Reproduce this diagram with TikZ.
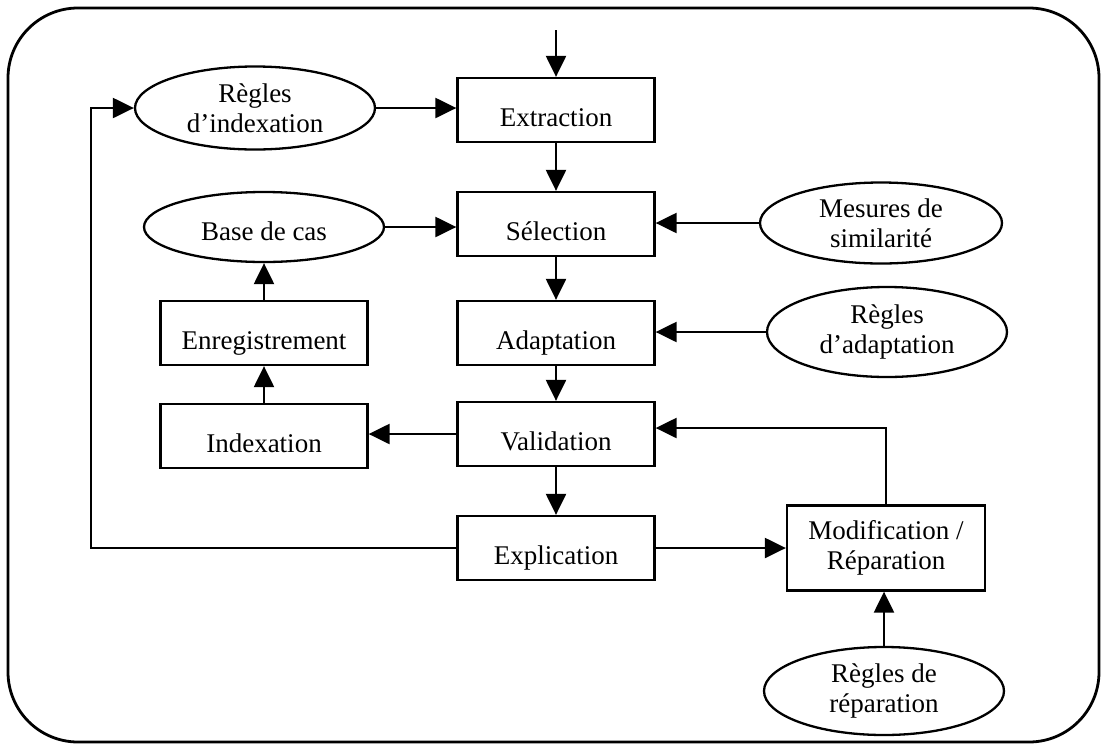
\documentclass[tikz,border=0pt]{standalone}
\usepackage{fontspec}
\setmainfont{Liberation Serif}
\usetikzlibrary{shapes.geometric,arrows.meta}
\begin{document}
\begin{tikzpicture}[x=0.5pt,y=-0.5pt,
  txt/.style={font=\fontsize{13.5}{15}\selectfont,align=center},
  proc/.style={txt,draw,line width=1.15pt,rectangle,minimum width=98.5pt,minimum height=32pt,inner sep=0pt},
  low/.style={text height=16pt,text depth=0pt},
  ell/.style={txt,draw,line width=1.15pt,ellipse,inner sep=0pt},
  arr/.style={line width=1.15pt,-{Triangle[length=10.5pt,width=10pt]}}]
\useasboundingbox (0,0) rectangle (1104,745);
\draw[line width=1.4pt,rounded corners=35pt] (8,8) rectangle (1099,742);

\node[proc,low] (ext) at (556,110) {Extraction};
\node[proc,low] (sel) at (556,224) {Sélection};
\node[proc,low] (ada) at (556,333) {Adaptation};
\node[proc,low] (val) at (556,434) {Validation};
\node[proc,low] (exp) at (556,548) {Explication};
\node[proc,low,minimum width=103.5pt] (idx) at (264,436) {Indexation};
\node[proc,low,minimum width=103.5pt] (enr) at (264,333) {Enregistrement};
\node[proc,minimum width=99pt,minimum height=42.5pt] (mod) at (886,548) {Modification /\\Réparation};

\node[ell,minimum width=120pt,minimum height=41.5pt] (ri) at (255,108) {Règles\\d’indexation};
\node[ell,text height=13pt,text depth=0pt,minimum width=120pt,minimum height=35pt] (bc) at (264,227) {Base de cas};
\node[ell,minimum width=121pt,minimum height=40.5pt] (ms) at (881,223) {Mesures de\\similarité};
\node[ell,minimum width=120pt,minimum height=45pt] (ra) at (887,332) {Règles\\d’adaptation};
\node[ell,minimum width=120pt,minimum height=44pt] (rr) at (884,691) {Règles de\\réparation};

\coordinate (top) at (556,30);
\coordinate (fb) at (91,548);

\draw[arr] (top) -- (ext);
\draw[arr] (ext) -- (sel);
\draw[arr] (sel) -- (ada);
\draw[arr] (ada) -- (val);
\draw[arr] (val) -- (exp);
\draw[arr] (ri) -- (ri -| ext.west);
\draw[arr] (bc) -- (bc -| sel.west);
\draw[arr] (ms) -- (ms -| sel.east);
\draw[arr] (ra) -- (ra -| ada.east);
\draw[arr] (val.west) -- (val.west -| idx.east);
\draw[arr] (idx) -- (enr);
\draw[arr] (enr) -- (bc);
\draw[arr] (exp) -- (exp -| mod.west);
\draw[arr] (exp.west) -- (fb) |- (ri.west);
\draw[arr] (mod.north) |- ([yshift=3pt]val.east);
\draw[arr] (rr) -- (rr |- mod.south);
\end{tikzpicture}
\end{document}
